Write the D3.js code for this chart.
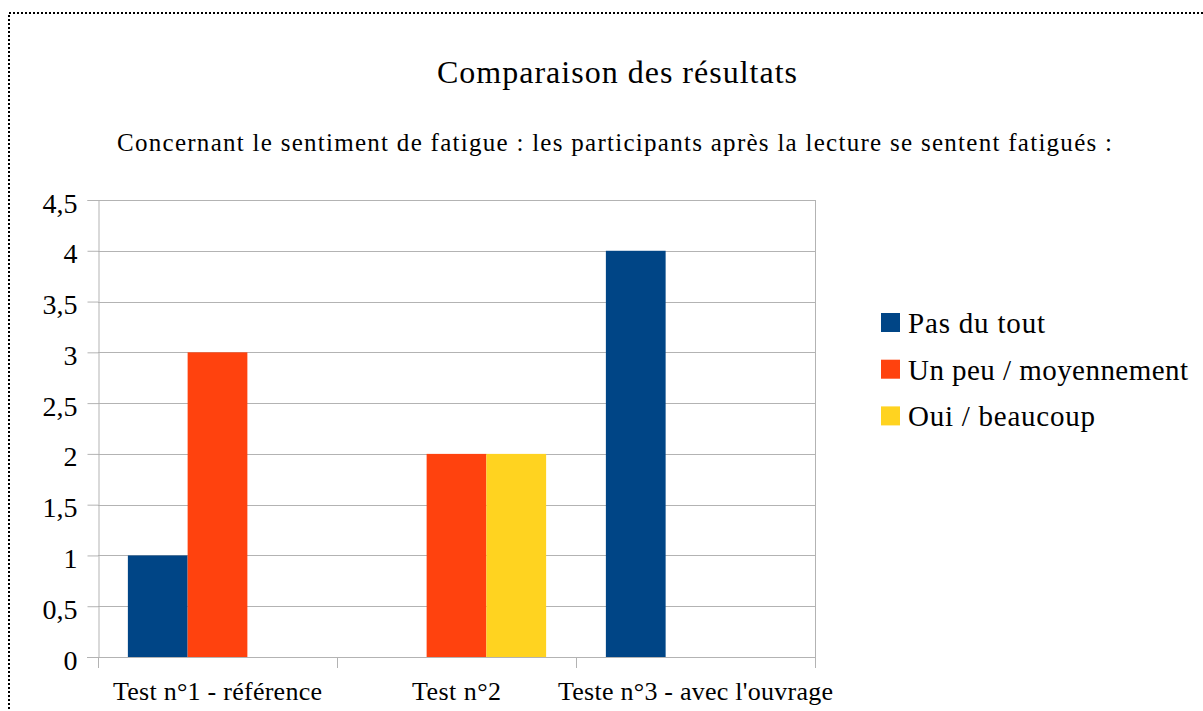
<!DOCTYPE html>
<html>
<head>
<meta charset="utf-8">
<script src="https://cdn.jsdelivr.net/npm/d3@7"></script>
<style>
    html, body { margin: 0; padding: 0; background: #fff; }
    svg { display: block; }
</style>
</head>
<body>
<div id="chart"></div>
<script>
// Data.
var categories = ['Test n°1 - référence', 'Test n°2', "Teste n°3 - avec l'ouvrage"];
var seriesNames = ['Pas du tout', 'Un peu / moyennement', 'Oui / beaucoup'];
var pasDuTout = [1, 0, 4];
var unPeu = [3, 2, 0];
var ouiBeaucoup = [0, 2, 0];
var seriesColors = ['#004586', '#ff420e', '#ffd320'];
var yTicks = [0, 0.5, 1, 1.5, 2, 2.5, 3, 3.5, 4, 4.5];

var titleText = 'Comparaison des résultats';
var subtitleText = 'Concernant le sentiment de fatigue : les participants après la lecture se sentent fatigués :';

var W = 1203, H = 711;
var FONT = '"Liberation Serif"';
var plot = {x: 98, y: 200, width: 717, height: 457};

// The original office renderer spreads glyphs a little wider than the
// browser does, so a few labels get their measured width.
var labelWidth = {
    'Test n°1 - référence': 209,
    'Test n°2': 89,
    "Teste n°3 - avec l'ouvrage": 275,
    'Pas du tout': 137,
    'Un peu / moyennement': 280,
    'Oui / beaucoup': 187
};

function fitText(sel) {
    sel.each(function (d) {
        var w = labelWidth[d];
        if (w) {
            d3.select(this).attr('textLength', w).attr('lengthAdjust', 'spacing');
        }
    });
}

var svg = d3.select('#chart').append('svg')
    .attr('width', W)
    .attr('height', H);

// Dotted page frame (only top and left edges are visible).
svg.append('path')
    .attr('d', 'M9,' + (H + 2) + 'V13H' + (W + 2))
    .attr('fill', 'none')
    .attr('stroke', '#000')
    .attr('stroke-width', 2)
    .attr('stroke-dasharray', '2,2');

// Titles
svg.append('text')
    .attr('x', 437).attr('y', 83)
    .attr('textLength', 360).attr('lengthAdjust', 'spacing')
    .style('font-family', FONT)
    .style('font-size', '32px')
    .text(titleText);
svg.append('text')
    .attr('x', 117).attr('y', 151)
    .attr('textLength', 995).attr('lengthAdjust', 'spacing')
    .style('font-family', FONT)
    .style('font-size', '25px')
    .text(subtitleText);

var series = seriesNames.map(function (name, i) {
    return {name: name, color: seriesColors[i], values: [pasDuTout, unPeu, ouiBeaucoup][i]};
});

// Scales
var x0 = d3.scaleBand()
    .domain(categories)
    .range([plot.x, plot.x + plot.width])
    .paddingInner(0).paddingOuter(0);
var x1 = d3.scaleBand()
    .domain(seriesNames)
    .range([0, x0.bandwidth()])
    .paddingInner(0).paddingOuter(0.5);
var y = d3.scaleLinear()
    .domain([0, 4.5])
    .range([plot.y + plot.height, plot.y]);

var fmt = function (d) { return String(d).replace('.', ','); };

// Gridlines
svg.append('g')
    .selectAll('line')
    .data(yTicks)
    .join('line')
    .attr('x1', plot.x).attr('x2', plot.x + plot.width)
    .attr('y1', function (d) { return Math.round(y(d)) + 0.5; })
    .attr('y2', function (d) { return Math.round(y(d)) + 0.5; })
    .attr('stroke', '#b3b3b3');
svg.append('line')
    .attr('x1', plot.x + plot.width + 0.5).attr('x2', plot.x + plot.width + 0.5)
    .attr('y1', plot.y).attr('y2', plot.y + plot.height)
    .attr('stroke', '#b3b3b3');

// Y axis
var yAxis = svg.append('g')
    .attr('transform', 'translate(' + (plot.x + 0.5) + ',0)')
    .call(d3.axisLeft(y).tickValues(yTicks).tickSize(11).tickPadding(10).tickFormat(fmt));
yAxis.attr('font-family', null);
yAxis.select('.domain').attr('stroke', '#b3b3b3');
yAxis.selectAll('.tick line').attr('stroke', '#b3b3b3');
yAxis.selectAll('.tick text')
    .attr('dy', null)
    .attr('y', 12)
    .attr('fill', '#000')
    .style('font-family', FONT)
    .style('font-size', '28px');

// Bars
var groups = svg.append('g')
    .selectAll('g')
    .data(series)
    .join('g')
    .attr('fill', function (d) { return d.color; });
groups.selectAll('rect')
    .data(function (s) {
        return s.values.map(function (v, i) { return {cat: categories[i], name: s.name, value: v}; });
    })
    .join('rect')
    .attr('x', function (d) { return x0(d.cat) + x1(d.name); })
    .attr('width', x1.bandwidth())
    .attr('y', function (d) { return y(d.value); })
    .attr('height', function (d) { return y(0) - y(d.value); });

// X axis: ticks sit on category boundaries
var xBounds = categories.map(function (c) { return x0(c); }).concat([plot.x + plot.width]);
var xAxis = svg.append('g');
xAxis.append('line')
    .attr('x1', plot.x - 11).attr('x2', plot.x + plot.width)
    .attr('y1', Math.round(y(0)) + 0.5).attr('y2', Math.round(y(0)) + 0.5)
    .attr('stroke', '#b3b3b3');
xAxis.selectAll('line.tk')
    .data(xBounds)
    .join('line')
    .attr('class', 'tk')
    .attr('x1', function (d) { return Math.round(d) + 0.5; })
    .attr('x2', function (d) { return Math.round(d) + 0.5; })
    .attr('y1', y(0)).attr('y2', y(0) + 11)
    .attr('stroke', '#b3b3b3');
xAxis.selectAll('text')
    .data(categories)
    .join('text')
    .attr('x', function (d) { return x0(d) + x0.bandwidth() / 2 - labelWidth[d] / 2; })
    .attr('y', 700)
    .style('font-family', FONT)
    .style('font-size', '26px')
    .text(function (d) { return d; })
    .call(fitText);

// Legend
var legend = svg.append('g')
    .attr('transform', 'translate(881,313)');
var item = legend.selectAll('g')
    .data(series)
    .join('g')
    .attr('transform', function (d, i) { return 'translate(0,' + (i * 46.7) + ')'; });
item.append('rect')
    .attr('width', 19).attr('height', 19)
    .attr('fill', function (d) { return d.color; });
item.append('text')
    .datum(function (d) { return d.name; })
    .attr('x', 27).attr('y', 20)
    .style('font-family', FONT)
    .style('font-size', '29px')
    .text(function (d) { return d; })
    .call(fitText);
</script>
</body>
</html>
